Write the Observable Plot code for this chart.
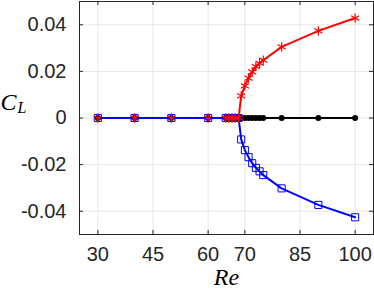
<!DOCTYPE html>
<html>
<head>
<meta charset="utf-8">
<script src="https://cdn.jsdelivr.net/npm/d3@7"></script>
<script src="https://cdn.jsdelivr.net/npm/@observablehq/plot@0.6"></script>
<style>
  html, body { margin: 0; padding: 0; background: #fff; }
</style>
</head>
<body>
<div id="chart"></div>
<script>
// Symmetric (base) branch, Re values and C_L = 0
const reBase = [30, 40, 50, 60, 64.8, 65.6, 66.5, 67.4, 68.3];
const clBase = [0, 0, 0, 0, 0, 0, 0, 0, 0];
// Post-bifurcation Re values
const reBranch = [69, 70, 71, 72, 73, 74, 75, 80, 90, 100];
// Unstable symmetric solution (black dots)
const clZero = [0, 0, 0, 0, 0, 0, 0, 0, 0, 0];
// Upper branch (red asterisks)
const clUpper = [0.0095, 0.0138, 0.0171, 0.0198, 0.0221, 0.0235, 0.0248, 0.0305, 0.0374, 0.0429];
// Lower branch (blue squares)
const clLower = [-0.0092, -0.0138, -0.0168, -0.0194, -0.0214, -0.0229, -0.0245, -0.0302, -0.0373, -0.0426];

const xTicks = [30, 45, 60, 70, 85, 100];
const yTicks = [-0.04, -0.02, 0, 0.02, 0.04];
const yTickLabels = ["-0.04", "-0.02", "0", "0.02", "0.04"];

const base = reBase.map((re, i) => ({re, cl: clBase[i]}));
const black = base.concat(reBranch.map((re, i) => ({re, cl: clZero[i]})));
const red = base.concat(reBranch.map((re, i) => ({re, cl: clUpper[i]})));
const blue = base.concat(reBranch.map((re, i) => ({re, cl: clLower[i]})));

const axisColor = "#262626";
const serif = "'Liberation Serif', 'DejaVu Serif', serif";

const chart = Plot.plot({
  width: 374,
  height: 290,
  marginLeft: 79,
  marginRight: 1,
  marginTop: 1,
  marginBottom: 56,
  style: {fontFamily: "'Liberation Sans', Arial, sans-serif", fontSize: "20px", color: axisColor, background: "#fff"},
  x: {domain: [25, 105]},
  y: {domain: [-0.05, 0.05]},
  marks: [
    Plot.gridX(xTicks, {stroke: "#e6e6e6", strokeOpacity: 1}),
    Plot.gridY(yTicks, {stroke: "#e6e6e6", strokeOpacity: 1}),
    Plot.axisX(xTicks, {tickSize: 0, tickPadding: 12, fontSize: 20, label: null, fill: axisColor}),
    Plot.axisY(yTicks, {tickSize: 0, tickPadding: 13, fontSize: 20, label: null, fill: axisColor,
      tickFormat: d => yTickLabels[yTicks.indexOf(d)]}),
    Plot.frame({stroke: axisColor, strokeWidth: 1}),
    Plot.ruleX(xTicks, {x: d => d, insetTop: 229, stroke: axisColor}),
    Plot.ruleX(xTicks, {x: d => d, insetBottom: 229, stroke: axisColor}),
    Plot.ruleY(yTicks, {y: d => d, insetRight: 290, stroke: axisColor}),
    Plot.ruleY(yTicks, {y: d => d, insetLeft: 290, stroke: axisColor}),
    // black unstable symmetric branch
    Plot.line(black, {x: "re", y: "cl", stroke: "#000", strokeWidth: 2}),
    Plot.dot(black, {x: "re", y: "cl", fill: "#000", r: 3}),
    // red upper branch line
    Plot.line(red, {x: "re", y: "cl", stroke: "#ff0000", strokeWidth: 2}),
    // blue lower branch line
    Plot.line(blue, {x: "re", y: "cl", stroke: "#0000ff", strokeWidth: 2}),
    Plot.dot(blue, {x: "re", y: "cl", symbol: "square", r: 4, stroke: "#0000ff", fill: "none", strokeWidth: 1}),
    Plot.dot(red, {x: "re", y: "cl", symbol: "asterisk", r: 4.4, stroke: "#ff0000", strokeWidth: 1.2}),
    // axis titles
    Plot.text(["C"], {frameAnchor: "left", dx: -79, dy: -16, textAnchor: "start",
      fontFamily: serif, fontStyle: "italic", fontSize: 24, fill: "#000"}),
    Plot.text(["L"], {frameAnchor: "left", dx: -62, dy: -10, textAnchor: "start",
      fontFamily: serif, fontStyle: "italic", fontSize: 16, fill: "#000"}),
    Plot.text(["Re"], {frameAnchor: "bottom", dy: 50, fontFamily: serif, fontStyle: "italic",
      fontSize: 24, fill: "#000"})
  ]
});
document.getElementById("chart").appendChild(chart);
</script>
</body>
</html>
